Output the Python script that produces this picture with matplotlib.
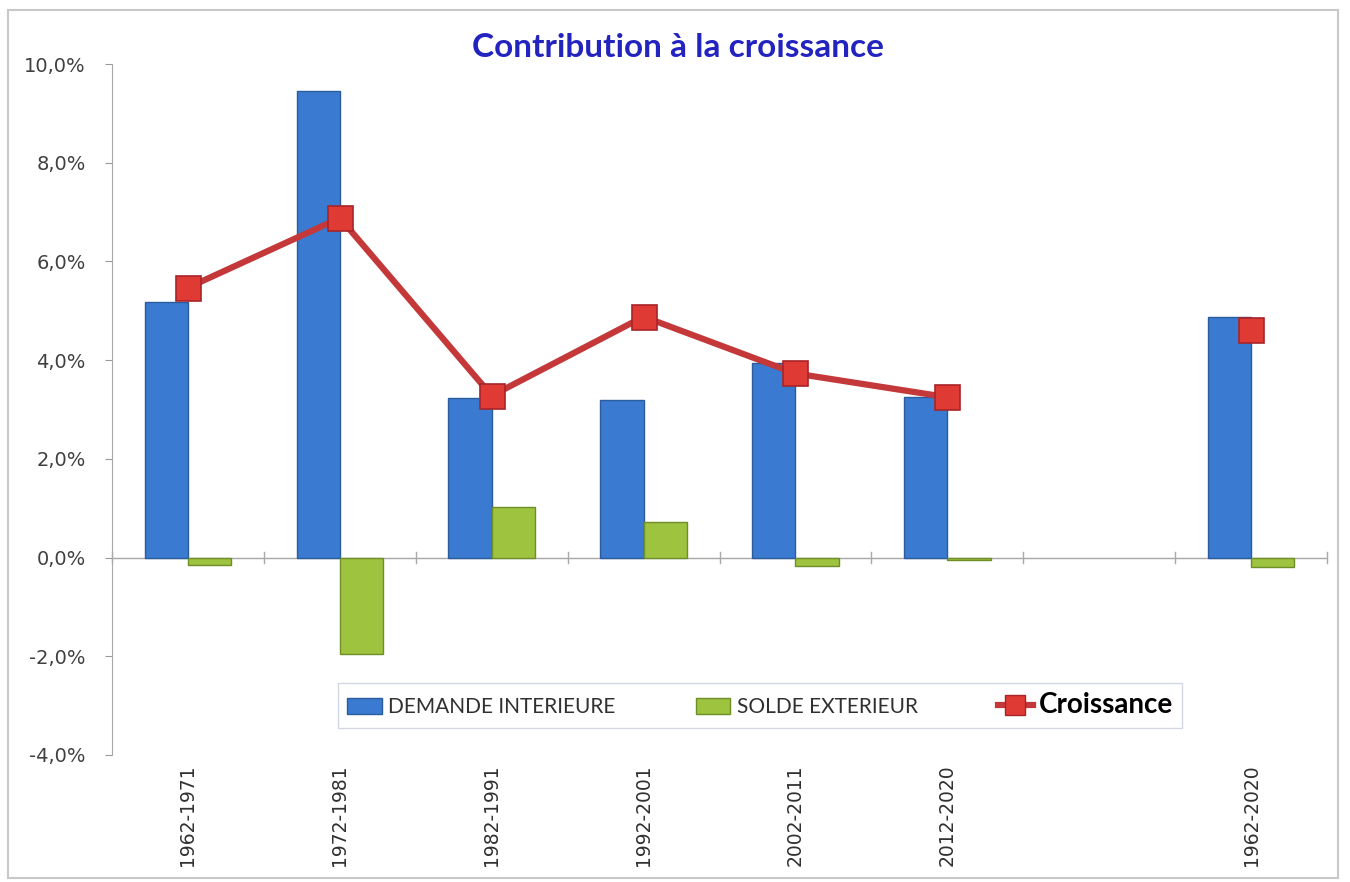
import numpy as np
import matplotlib
matplotlib.use("Agg")
import matplotlib.pyplot as plt
from matplotlib.patches import Patch, Rectangle
from matplotlib.lines import Line2D
from matplotlib.ticker import FuncFormatter

categories = ["1962-1971", "1972-1981", "1982-1991", "1992-2001", "2002-2011", "2012-2020", "", "1962-2020"]
demande_interieure = [5.18, 9.45, 3.24, 3.20, 3.95, 3.26, np.nan, 4.88]
solde_exterieur = [-0.15, -1.96, 1.03, 0.73, -0.18, -0.05, np.nan, -0.20]
croissance = [5.47, 6.88, 3.28, 4.88, 3.73, 3.25, np.nan, 4.62]

fig = plt.figure(figsize=(13.5, 8.82), dpi=100)
ax = fig.add_axes([0.083, 0.144, 0.9, 0.7834])

x = np.arange(len(categories))
w = 0.285
blue = "#3A7AD0"
green = "#9DC33F"
ax.bar(x - w / 2, demande_interieure, w, color=blue, edgecolor="#2A5C9E", linewidth=1.0, zorder=2)
ax.bar(x + w / 2, solde_exterieur, w, color=green, edgecolor="#6E8E28", linewidth=1.0, zorder=2)
ax.plot(x, croissance, color="#C4383A", linewidth=4.5, marker="s", markersize=18,
        markerfacecolor="#E03A34", markeredgecolor="#A82428", markeredgewidth=1.2, zorder=4)

ax.set_xlim(-0.5, 7.5)
ax.set_ylim(-4, 10)
ax.set_yticks(np.arange(-4, 10.1, 2))
ax.yaxis.set_major_formatter(FuncFormatter(lambda v, p: f"{v:.1f}%".replace(".", ",")))
ax.tick_params(axis="y", labelsize=14, colors="#404040", length=5, color="#9A9A9A", pad=14)

for s in ["top", "right", "bottom"]:
    ax.spines[s].set_visible(False)
ax.spines["left"].set_color("#A8A8A8")
ax.axhline(0, color="#A8A8A8", linewidth=1.0, zorder=1)
for b in np.arange(-0.5, 7.6, 1.0):
    ax.plot([b, b], [-0.12, 0.12], color="#A8A8A8", linewidth=1.0, zorder=1, clip_on=False)

ax.set_xticks(x)
ax.set_xticklabels(categories, rotation=90, fontsize=13.5, color="#303030")
ax.tick_params(axis="x", length=0, pad=7)

fig.text(0.502, 0.946, "Contribution à la croissance", ha="center", va="center",
         fontsize=24, fontweight="bold", color="#2323C0", family="Lato")

handles = [Patch(facecolor=blue, edgecolor="#2A5C9E"),
           Patch(facecolor=green, edgecolor="#6E8E28"),
           Line2D([0], [0], color="#C4383A", linewidth=4.5, marker="s", markersize=14,
                  markerfacecolor="#E03A34", markeredgecolor="#A82428")]
labels = ["DEMANDE INTERIEURE", "SOLDE EXTERIEUR", "Croissance"]
leg = ax.legend(handles, labels, ncol=3, loc="center", bbox_to_anchor=(0.186, 0.032, 0.695, 0.08),
                mode="expand", frameon=True, fancybox=False, edgecolor="#C8CEDA",
                prop={"family": "Lato", "size": 15}, handlelength=1.65, handleheight=0.85,
                handletextpad=0.3, borderaxespad=0, borderpad=0.45, columnspacing=1.5)
leg.get_frame().set_linewidth(1.0)
leg.get_texts()[2].set_fontsize(20)
leg.get_texts()[2].set_fontweight("bold")
for t in leg.get_texts()[:2]:
    t.set_color("#303030")
leg.get_texts()[2].set_color("#000000")

fig.patches.append(Rectangle((0.006, 0.004), 0.985, 0.985, transform=fig.transFigure,
                             fill=False, edgecolor="#C8C8C8", linewidth=1.5))

fig.savefig("out.png", dpi=100)
